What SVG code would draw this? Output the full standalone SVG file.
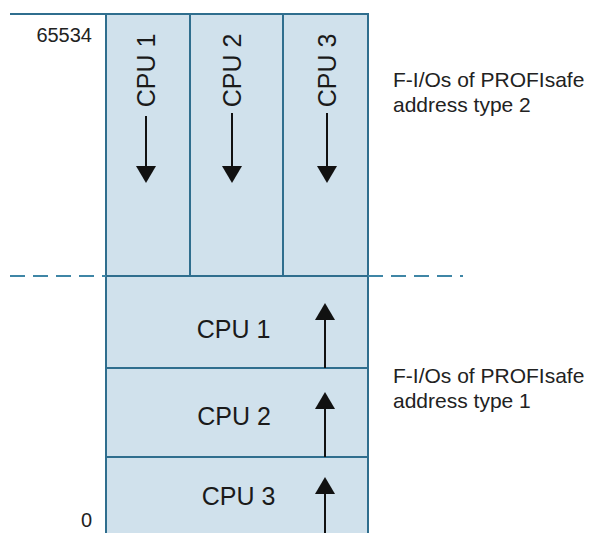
<svg xmlns="http://www.w3.org/2000/svg" width="590" height="533" viewBox="0 0 590 533">
  <style>
    .frame { fill: #d0e1ec; stroke: #2f6e8e; stroke-width: 2; }
    .rule { stroke: #2f6e8e; stroke-width: 2; fill: none; }
    .dash { stroke: #3f86a6; stroke-width: 2; stroke-dasharray: 15 8; fill: none; }
    .cpu { font-family: "Liberation Sans", Arial, sans-serif; font-size: 25px; fill: #1a1a1a; }
    .note { font-family: "Liberation Sans", Arial, sans-serif; font-size: 21px; fill: #222222; }
    .axis { font-family: "Liberation Sans", Arial, sans-serif; font-size: 20px; fill: #222222; text-anchor: end; }
    .flow { stroke: #111111; stroke-width: 2; fill: none; marker-end: url(#head); }
  </style>
  <defs>
    <marker id="head" markerUnits="userSpaceOnUse" markerWidth="17" markerHeight="20" viewBox="0 0 17 20" refX="13" refY="10" orient="auto">
      <path d="M0,0 L17,10 L0,20 Z" fill="#111111"/>
    </marker>
  </defs>

  <rect width="590" height="533" fill="#ffffff"/>

  <!-- address axis -->
  <g id="axis">
    <line class="rule" x1="10" y1="14" x2="368" y2="14"/>
    <text class="axis" x="92" y="42">65534</text>
    <text class="axis" x="92" y="527">0</text>
  </g>

  <!-- outer address range block -->
  <rect id="range" class="frame" x="106" y="14" width="262" height="530"/>

  <!-- PROFIsafe address type 2: columns filled top-down -->
  <g id="type2-cpu1">
    <rect class="frame" x="106" y="14" width="84" height="262"/>
    <text class="cpu" text-anchor="middle" transform="translate(155,70.5) rotate(-90)">CPU 1</text>
  </g>
  <g id="type2-cpu2">
    <rect class="frame" x="190" y="14" width="93" height="262"/>
    <text class="cpu" text-anchor="middle" transform="translate(241,70.5) rotate(-90)">CPU 2</text>
  </g>
  <g id="type2-cpu3">
    <rect class="frame" x="283" y="14" width="85" height="262"/>
    <text class="cpu" text-anchor="middle" transform="translate(336,70.5) rotate(-90)">CPU 3</text>
  </g>

  <!-- PROFIsafe address type 1: rows filled bottom-up -->
  <g id="type1-cpu1">
    <rect class="frame" x="106" y="276" width="262" height="92"/>
    <text class="cpu" text-anchor="middle" x="233.5" y="338">CPU 1</text>
  </g>
  <g id="type1-cpu2">
    <rect class="frame" x="106" y="368" width="262" height="89"/>
    <text class="cpu" text-anchor="middle" x="234" y="425">CPU 2</text>
  </g>
  <g id="type1-cpu3">
    <rect class="frame" x="106" y="457" width="262" height="90"/>
    <text class="cpu" text-anchor="middle" x="238.5" y="505">CPU 3</text>
  </g>

  <!-- boundary between the two address types -->
  <g id="boundary">
    <line class="dash" x1="10" y1="276" x2="106" y2="276"/>
    <line class="dash" x1="368" y1="276" x2="463" y2="276"/>
  </g>

  <!-- allocation direction arrows -->
  <g id="connectors">
    <line class="flow" x1="146" y1="116" x2="146" y2="179"/>
    <line class="flow" x1="232" y1="113" x2="232" y2="179"/>
    <line class="flow" x1="327" y1="113" x2="327" y2="179"/>
    <line class="flow" x1="325" y1="368" x2="325" y2="307"/>
    <line class="flow" x1="325" y1="457" x2="325" y2="396"/>
    <line class="flow" x1="325" y1="540" x2="325" y2="481"/>
  </g>

  <!-- address type notes -->
  <g id="note-type2">
    <text class="note" x="393" y="87">F-I/Os of PROFIsafe</text>
    <text class="note" x="393" y="112">address type 2</text>
  </g>
  <g id="note-type1">
    <text class="note" x="393" y="383">F-I/Os of PROFIsafe</text>
    <text class="note" x="393" y="408">address type 1</text>
  </g>
</svg>
